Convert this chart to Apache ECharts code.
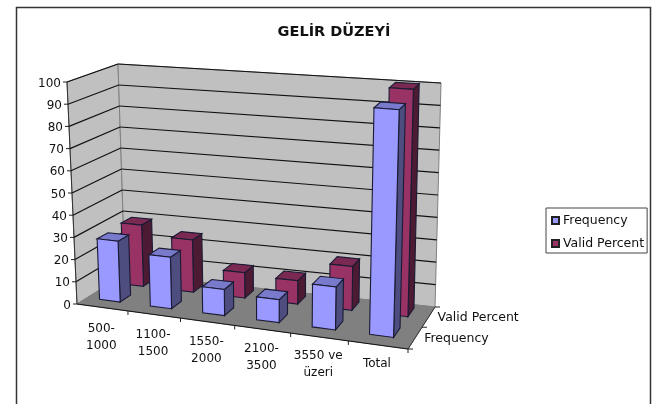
<!DOCTYPE html>
<html>
<head>
<meta charset="utf-8">
<style>
	html, body { margin: 0; padding: 0; background: #fff; }
	#main { width: 658px; height: 404px; }
</style>
</head>
<body>
<div id="main"></div>
<script src="https://cdn.jsdelivr.net/npm/echarts@6/dist/echarts.min.js"></script>
<script>
	var categories = ['500-\n1000', '1100-\n1500', '1550-\n2000', '2100-\n3500', '3550 ve\nüzeri', 'Total'];
	var depthLabels = ['Frequency', 'Valid Percent'];
	var yTicks = [0, 10, 20, 30, 40, 50, 60, 70, 80, 90, 100];
	var frequency = [27.5, 23, 11.5, 10, 18.5, 97];
	var validPercent = [28.5, 24, 11.5, 10.5, 19.5, 100];

	var fontName = 'DejaVu Sans';

	// corners of the 3d box on screen: F/B front/back, L/R left/right, 0/1 floor/top
	var box = {
		FL0: [77, 304], FL1: [67, 82],
		BL0: [125, 274], BL1: [118, 64],
		FR0: [408, 349], FR1: [415, 110],
		BR0: [435, 307], BR1: [441, 83]
	};

	// u along categories, v up the value axis, d into the depth (all 0..1)
	function project(u, v, d) {
		var wFL = (1 - u) * (1 - d) * 1;
		var wFR = u * (1 - d) * 0.91;
		var wBL = (1 - u) * d * 1.06;
		var wBR = u * d * 0.98;
		var sum = wFL + wFR + wBL + wBR;
		var out = [0, 0];
		for (var i = 0; i < 2; i++) {
			var low = wFL * box.FL0[i] + wFR * box.FR0[i] + wBL * box.BL0[i] + wBR * box.BR0[i];
			var high = wFL * box.FL1[i] + wFR * box.FR1[i] + wBL * box.BL1[i] + wBR * box.BR1[i];
			out[i] = (low * (1 - v) + high * v) / sum;
		}
		return out;
	}

	function poly(points, fill, stroke, lineWidth) {
		return {
			type: 'polygon',
			shape: { points: points },
			style: { fill: fill, stroke: stroke, lineWidth: lineWidth === undefined ? 1 : lineWidth }
		};
	}

	function line(a, b, color, lineWidth) {
		return {
			type: 'line',
			shape: { x1: a[0], y1: a[1], x2: b[0], y2: b[1] },
			style: { stroke: color, lineWidth: lineWidth || 1 }
		};
	}

	// grid position -> box fractions
	function toUnit(params, api, cat, value) {
		var cs = params.coordSys;
		var p = api.coord([cat, value]);
		return [(p[0] - cs.x) / cs.width, (cs.y + cs.height - p[1]) / cs.height];
	}

	function renderWalls(params, api) {
		var backTick = project(1, 0, 1);
		return {
			type: 'group',
			children: [
				poly([project(0, 0, 0), project(0, 1, 0), project(0, 1, 1), project(0, 0, 1)], '#c0c0c0', '#808080'),
				poly([project(0, 0, 1), project(0, 1, 1), project(1, 1, 1), project(1, 0, 1)], '#c0c0c0', '#808080'),
				poly([project(0, 0, 0), project(0, 0, 1), project(1, 0, 1), project(1, 0, 0)], '#808080', '#808080'),
				line(project(0, 0, 0), project(0, 1, 0), '#333'),
				line(project(0, 0, 0), project(1, 0, 0), '#111'),
				line(project(1, 0, 0), backTick, '#333'),
				line(backTick, [backTick[0] + 5, backTick[1]], '#222')
			]
		};
	}

	function renderGrid(params, api) {
		var v = toUnit(params, api, 0, api.value(0))[1];
		var tick = project(0, v, 0);
		var children = [
			line([tick[0] - 4, tick[1]], tick, '#222'),
			{
				type: 'text',
				style: {
					x: tick[0] - 6, y: tick[1] + 1.5, text: String(api.value(0)),
					align: 'right', verticalAlign: 'middle',
					font: '12px "' + fontName + '"', fill: '#111'
				}
			}
		];
		if (v > 0) {
			children.push(line(tick, project(0, v, 1), '#111', 1.2));
			children.push(line(project(0, v, 1), project(1, v, 1), '#111', 1.2));
		}
		return { type: 'group', children: children };
	}

	function renderCatLabel(params, api) {
		var cs = params.coordSys;
		var u = toUnit(params, api, api.value(0), 0)[0];
		var band = api.size([1, 0])[0] / cs.width;
		var mid = project(u, 0, 0);
		var tick = project(u + band / 2, 0, 0);
		return {
			type: 'group',
			children: [
				line(tick, [tick[0], tick[1] + 4], '#222'),
				{
					type: 'text',
					style: {
						x: mid[0] - 1, y: mid[1] + 13 - 3 * u, text: categories[api.value(0)],
						align: 'center', verticalAlign: 'top', lineHeight: 17,
						font: '12px "' + fontName + '"', fill: '#111'
					}
				}
			]
		};
	}

	function renderDepthLabel(params, api) {
		var i = api.value(0);
		var mid = project(1, 0, (i + 0.5) / depthLabels.length);
		var tick = project(1, 0, i / depthLabels.length);
		return {
			type: 'group',
			children: [
				line(tick, [tick[0] + 5, tick[1]], '#222'),
				{
					type: 'text',
					style: {
						x: mid[0] + 9, y: mid[1] + 1, text: depthLabels[i],
						align: 'left', verticalAlign: 'middle',
						font: '12.5px "' + fontName + '"', fill: '#111'
					}
				}
			]
		};
	}

	function makeBarRenderer(row, colors) {
		return function (params, api) {
			var cs = params.coordSys;
			var p0 = toUnit(params, api, api.value(0), 0);
			var p1 = toUnit(params, api, api.value(0), api.value(1));
			var band = api.size([1, 0])[0] / cs.width;
			var u0 = p0[0] - band * 0.25;
			var u1 = p0[0] + band * 0.16;
			var d0 = (row + 0.5) / 2 - 0.05;
			var d1 = d0 + 0.22;
			var v0 = p0[1];
			var v1 = p1[1];
			return {
				type: 'group',
				children: [
					poly([project(u1, v0, d0), project(u1, v1, d0), project(u1, v1, d1), project(u1, v0, d1)], colors[2], '#1a1a33', 1.1),
					poly([project(u0, v1, d0), project(u0, v1, d1), project(u1, v1, d1), project(u1, v1, d0)], colors[1], '#1a1a33', 1.1),
					poly([project(u0, v0, d0), project(u0, v1, d0), project(u1, v1, d0), project(u1, v0, d0)], colors[0], '#1a1a33', 1.1)
				]
			};
		};
	}

	var chart = echarts.init(document.getElementById('main'), null, { renderer: 'canvas' });

	var option = {
		backgroundColor: '#fff',
		animation: false,
		title: {
			text: 'GELİR DÜZEYİ',
			left: 329,
			top: 20,
			textAlign: 'center',
			textStyle: { fontFamily: fontName, fontSize: 14.5, fontWeight: 'bold', color: '#111' }
		},
		legend: {
			data: ['Frequency', 'Valid Percent'],
			orient: 'vertical',
			left: 546,
			top: 208,
			padding: [6, 3, 3, 5],
			itemGap: 10,
			itemWidth: 7,
			itemHeight: 7,
			icon: 'rect',
			borderColor: '#444',
			borderWidth: 1,
			textStyle: { fontFamily: fontName, fontSize: 12.5, color: '#111', padding: [0, 0, 0, -1] }
		},
		graphic: [{
			type: 'rect',
			silent: true,
			z: -1,
			shape: { x: 16.5, y: 7.5, width: 634, height: 410 },
			style: { fill: '#fff', stroke: '#333', lineWidth: 1.5 }
		}],
		grid: { left: 0, top: 0, width: 658, height: 404 },
		xAxis: { type: 'category', data: categories, show: false },
		yAxis: { type: 'value', min: 0, max: 100, interval: 10, show: false },
		series: [
			{ type: 'custom', name: 'walls', silent: true, data: [0], renderItem: renderWalls, encode: { x: 0 }, clip: false },
			{ type: 'custom', name: 'grid', silent: true, data: yTicks.map(function (t) { return [t]; }), renderItem: renderGrid, clip: false },
			{ type: 'custom', name: 'cats', silent: true, data: categories.map(function (c, i) { return [i]; }), renderItem: renderCatLabel, clip: false },
			{ type: 'custom', name: 'depth', silent: true, data: depthLabels.map(function (c, i) { return [i]; }), renderItem: renderDepthLabel, clip: false },
			{
				type: 'custom',
				name: 'Valid Percent',
				itemStyle: { color: '#993366', borderColor: '#222', borderWidth: 1 },
				data: validPercent.map(function (v, i) { return [i, v]; }),
				renderItem: makeBarRenderer(1, ['#993366', '#7a2952', '#4d1a33']),
				clip: false
			},
			{
				type: 'custom',
				name: 'Frequency',
				itemStyle: { color: '#9999ff', borderColor: '#222', borderWidth: 1 },
				data: frequency.map(function (v, i) { return [i, v]; }),
				renderItem: makeBarRenderer(0, ['#9999ff', '#7a7acc', '#4d4d80']),
				clip: false
			}
		]
	};

	chart.setOption(option);
</script>
</body>
</html>
